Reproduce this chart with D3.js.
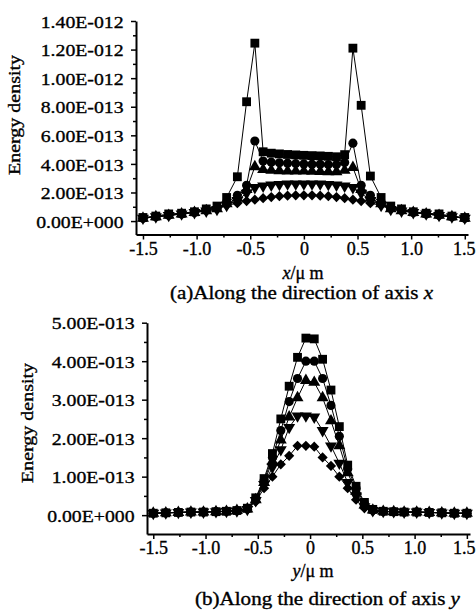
<!DOCTYPE html>
<html><head><meta charset="utf-8">
<script src="https://cdn.jsdelivr.net/npm/d3@7"></script>
<style>body{margin:0;background:#fff}svg{display:block}text{font-family:"Liberation Serif","Times New Roman",serif;fill:#000;stroke:#000;stroke-width:0.35px}</style>
</head><body><svg id="c" width="476" height="612"></svg>
<script>
// ---- Panel (a): along x ; values in units of 1E-13 ----
const xPosA = [-1.5,-1.38,-1.26,-1.14,-1.02,-0.91,-0.81,-0.72,-0.62,-0.534,-0.457,-0.38,-0.304,-0.228,-0.152,-0.076,0,
  0.076,0.152,0.228,0.304,0.38,0.457,0.534,0.62,0.72,0.81,0.91,1.02,1.14,1.26,1.38,1.5];
const squaresA  = [0.25,0.35,0.5,0.55,0.65,0.85,1.05,1.65,3.1,8.35,12.45,4.85,4.75,4.7,4.66,4.63,4.6,4.58,4.56,4.53,4.5,4.65,12.1,8.1,3.15,1.65,1.05,0.85,0.65,0.55,0.5,0.35,0.25];
const circlesA  = [0.2,0.3,0.4,0.5,0.6,0.75,0.9,1.3,1.8,2.5,5.6,4.2,4.12,4.08,4.05,4.02,4.0,3.98,3.97,3.95,3.95,4.1,5.45,2.5,1.8,1.3,0.9,0.75,0.6,0.5,0.4,0.3,0.2];
const upTriA    = [0.2,0.3,0.4,0.5,0.6,0.72,0.85,1.2,1.6,2.2,3.8,3.6,3.55,3.52,3.5,3.5,3.5,3.48,3.47,3.45,3.45,3.55,3.75,2.2,1.6,1.2,0.85,0.72,0.6,0.5,0.4,0.3,0.2];
const downTriA  = [0.2,0.3,0.4,0.5,0.6,0.7,0.82,1.1,1.45,1.95,2.35,2.45,2.52,2.57,2.6,2.6,2.6,2.6,2.6,2.57,2.52,2.45,2.35,1.95,1.45,1.1,0.82,0.7,0.6,0.5,0.4,0.3,0.2];
const diamondsA = [0.2,0.3,0.4,0.5,0.65,0.8,0.95,1.1,1.25,1.4,1.5,1.6,1.68,1.74,1.78,1.8,1.8,1.8,1.78,1.74,1.68,1.6,1.5,1.4,1.25,1.1,0.95,0.8,0.65,0.5,0.4,0.3,0.2];

// ---- Panel (b): along y ; values in units of 1E-13 ----
const xPosB = [-1.5,-1.38,-1.26,-1.14,-1.02,-0.9,-0.8,-0.7,-0.6,-0.52,-0.44,-0.36,-0.28,-0.2,-0.12,-0.04,
  0.04,0.12,0.2,0.28,0.36,0.44,0.52,0.6,0.7,0.8,0.9,1.02,1.14,1.26,1.38,1.5];
const squaresB  = [0.05,0.06,0.07,0.08,0.08,0.09,0.1,0.12,0.18,0.45,0.95,1.6,2.5,3.35,4.1,4.6,4.58,4.05,3.25,2.3,1.3,0.75,0.33,0.15,0.1,0.09,0.08,0.08,0.07,0.06,0.05,0.05];
const circlesB  = [0.05,0.06,0.07,0.08,0.08,0.09,0.1,0.12,0.17,0.42,0.9,1.5,2.2,2.95,3.55,4.0,4.0,3.55,2.85,2.05,1.2,0.7,0.3,0.14,0.1,0.09,0.08,0.08,0.07,0.06,0.05,0.05];
const upTriB    = [0.05,0.06,0.07,0.08,0.08,0.09,0.1,0.12,0.16,0.4,0.85,1.4,1.95,2.55,3.05,3.5,3.45,3.05,2.45,1.8,1.1,0.62,0.26,0.13,0.1,0.09,0.08,0.08,0.07,0.06,0.05,0.05];
const downTriB  = [0.05,0.06,0.07,0.08,0.08,0.09,0.1,0.11,0.15,0.38,0.8,1.25,1.7,2.28,2.58,2.58,2.55,2.2,1.8,1.35,0.85,0.5,0.22,0.12,0.1,0.09,0.08,0.08,0.07,0.06,0.05,0.05];
const diamondsB = [0.05,0.06,0.07,0.08,0.08,0.09,0.1,0.11,0.14,0.35,0.7,1.0,1.32,1.54,1.8,1.8,1.78,1.5,1.28,1.0,0.7,0.4,0.18,0.1,0.09,0.08,0.08,0.08,0.07,0.06,0.05,0.05];

// ---- tick values / labels ----
const xTicks = [-1.5,-1,-0.5,0,0.5,1,1.5];
const xTickLabels = ["-1.5","-1.0","-0.5","0","0.5","1.0","1.5"];
const xMinorTicks = [-1.25,-0.75,-0.25,0.25,0.75,1.25];
const yTicksA = [0,2,4,6,8,10,12,14];
const yTickLabelsA = ["0.00E+000","2.00E-013","4.00E-013","6.00E-013","8.00E-013","1.00E-012","1.20E-012","1.40E-012"];
const yMinorA = [1,3,5,7,9,11,13];
const yTicksB = [0,1,2,3,4,5];
const yTickLabelsB = ["0.00E+000","1.00E-013","2.00E-013","3.00E-013","4.00E-013","5.00E-013"];
const yMinorB = [0.5,1.5,2.5,3.5,4.5];

const svg = d3.select("#c");

const markers = [
  {type:d3.symbolSquare, size:78, rot:0},
  {type:d3.symbolCircle, size:66, rot:0},
  {type:d3.symbolTriangle, size:62, rot:0},
  {type:d3.symbolTriangle, size:62, rot:180},
  {type:d3.symbolSquare, size:52, rot:45}
];

function panel(cfg){
  const x = d3.scaleLinear().domain(cfg.xDom).range(cfg.xRange);
  const y = d3.scaleLinear().domain(cfg.yDom).range(cfg.yRange);
  const g = svg.append("g");
  const line = d3.line().x(d=>x(d[0])).y(d=>y(d[1]));
  cfg.series.forEach((vals,i)=>{
    const pts = cfg.xs.map((xv,j)=>[xv,vals[j]]);
    g.append("path").attr("d",line(pts)).attr("fill","none").attr("stroke","#000").attr("stroke-width",1);
  });
  for(let i=cfg.series.length-1;i>=0;i--){
    const vals=cfg.series[i], m=markers[i];
    const sym=d3.symbol().type(m.type).size(m.size);
    g.append("g").selectAll("path").data(cfg.xs.map((xv,j)=>[xv,vals[j]])).join("path")
      .attr("d",sym).attr("fill","#000")
      .attr("transform",d=>`translate(${x(d[0])},${y(d[1])}) rotate(${m.rot})`);
  }
  // x axis
  const y0 = cfg.yRange[0];
  const xa = g.append("g").attr("transform",`translate(0,${y0})`)
    .call(d3.axisBottom(x).tickValues(xTicks).tickSize(5).tickSizeOuter(0).tickPadding(4)
      .tickFormat((d,i)=>xTickLabels[i]));
  xa.select(".domain").attr("stroke-width",2);
  xa.selectAll(".tick line").attr("stroke-width",1.5);
  xa.selectAll("text").attr("font-size",18).attr("font-family","Liberation Serif").attr("dy",null).attr("y",cfg.xLabelDy)
    .attr("dx",(d,i)=> i===xTicks.length-1 ? cfg.lastDx : 0);
  const xm = g.append("g").attr("transform",`translate(0,${y0})`)
    .call(d3.axisBottom(x).tickValues(xMinorTicks).tickSize(3).tickFormat(""));
  xm.select(".domain").remove();
  xm.selectAll(".tick line").attr("stroke-width",1.5);
  // y axis
  const x0 = cfg.xRange[0];
  const ya = g.append("g").attr("transform",`translate(${x0},0)`)
    .call(d3.axisLeft(y).tickValues(cfg.yTicks).tickSize(5).tickSizeOuter(0).tickPadding(6)
      .tickFormat((d,i)=>cfg.yLabels[i]));
  ya.select(".domain").attr("stroke-width",2);
  ya.selectAll(".tick line").attr("stroke-width",1.5);
  ya.selectAll("text").attr("font-size",17.5).attr("font-family","Liberation Serif")
    .attr("transform","scale(1.13,1)").attr("dy","0.35em");
  const ym = g.append("g").attr("transform",`translate(${x0},0)`)
    .call(d3.axisLeft(y).tickValues(cfg.yMinor).tickSize(3).tickFormat(""));
  ym.select(".domain").remove();
  ym.selectAll(".tick line").attr("stroke-width",1.5);
  // titles
  g.append("text").attr("transform",`translate(${cfg.yTitleX},${cfg.yTitleY}) rotate(-90)`)
    .attr("text-anchor","middle").attr("font-size",17).attr("textLength",120).attr("lengthAdjust","spacingAndGlyphs")
    .text("Energy density");
  g.append("text").attr("x",cfg.xTitleX).attr("y",cfg.xTitleY).attr("text-anchor","middle").attr("font-size",18)
    .html(`<tspan font-style="italic">${cfg.axisVar}</tspan>/\u03bc m`);
  g.append("text").attr("x",cfg.capX).attr("y",cfg.capY).attr("font-size",18)
    .attr("textLength",cfg.capLen).attr("lengthAdjust","spacingAndGlyphs")
    .html(`${cfg.capText}<tspan font-style="italic">${cfg.axisVar}</tspan>`);
}

panel({
  xs:xPosA, series:[squaresA,circlesA,upTriA,downTriA,diamondsA],
  xDom:[-1.565,1.53], xRange:[136,468],
  yDom:[-0.94,14], yRange:[234.5,21],
  yTicks:yTicksA, yLabels:yTickLabelsA, yMinor:yMinorA, lastDx:-1,
  xLabelDy:20, yTitleX:20, yTitleY:115, xTitleX:303, xTitleY:279,
  axisVar:"x", capText:"(a)Along the direction of axis ", capX:170, capY:299, capLen:263
});
panel({
  xs:xPosB, series:[squaresB,circlesB,upTriB,downTriB,diamondsB],
  xDom:[-1.56,1.53], xRange:[147,470],
  yDom:[-0.49,5], yRange:[534,322.7],
  yTicks:yTicksB, yLabels:yTickLabelsB, yMinor:yMinorB, lastDx:-3,
  xLabelDy:20, yTitleX:33, yTitleY:423, xTitleX:313, xTitleY:577,
  axisVar:"y", capText:"(b)Along the direction of axis ", capX:195, capY:605, capLen:265
});
</script></body></html>
